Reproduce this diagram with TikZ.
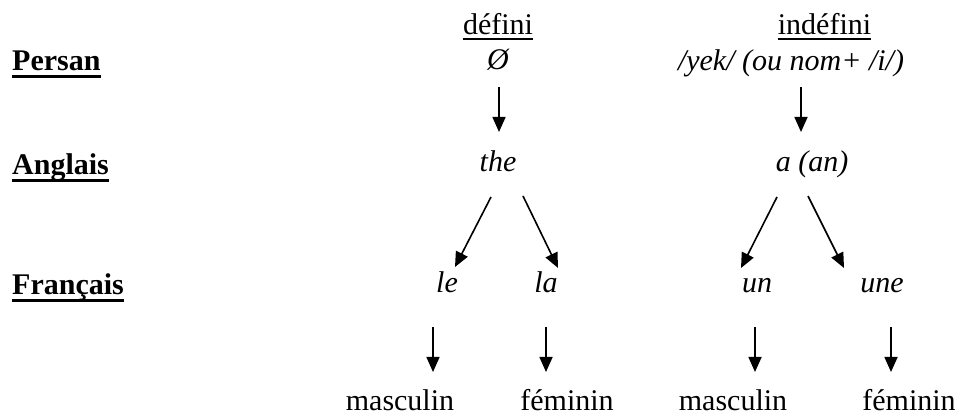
\documentclass[tikz,border=0pt]{standalone}
\usepackage{fontspec}
\setmainfont{Liberation Serif}
\usetikzlibrary{arrows.meta}
\begin{document}
\begin{tikzpicture}[x=1pt,y=1pt,
  txt/.style={inner sep=0pt,anchor=base,font=\fontsize{30}{36}\selectfont},
  ittxt/.style={txt,font=\fontsize{30}{36}\selectfont\itshape},
  lang/.style={inner sep=0pt,anchor=base west,font=\fontsize{30}{36}\selectfont\bfseries},
  arr/.style={line width=1.6pt,-{Triangle[length=15pt,width=13pt]}},
  ulthick/.style={line width=3pt},
  ulthin/.style={line width=1.8pt}]
\useasboundingbox (0,0) rectangle (958,417);
% language labels
\node[lang] (persan) at (12,346) {Persan};
\node[lang] (anglais) at (12,242) {Anglais};
\node[lang] (francais) at (12,122) {Français};
\draw[ulthick] ([yshift=-5.5]persan.base west) -- ([yshift=-5.5]persan.base east);
\draw[ulthick] ([yshift=-5.5]anglais.base west) -- ([yshift=-5.5]anglais.base east);
\draw[ulthick] ([yshift=-6]francais.base west) -- ([yshift=-6]francais.base east);
% headings
\node[txt] (defini) at (498,382) {défini};
\node[txt] (indefini) at (824.5,382) {indéfini};
\draw[ulthin] ([yshift=-4]defini.base west) -- ([yshift=-4]defini.base east);
\draw[ulthin] ([yshift=-4]indefini.base west) -- ([yshift=-4]indefini.base east);
% Persan row
\node[ittxt] (zero) at (498,347) {Ø};
\node[ittxt] (yek) at (791,346) {/yek/ (ou nom+ /i/)};
% Anglais row
\node[ittxt] (the) at (498,245) {the};
\node[ittxt] (aan) at (812,245) {a (an)};
% Francais row
\node[ittxt] (le) at (447,124) {le};
\node[ittxt] (la) at (546,124) {la};
\node[ittxt] (un) at (757,124) {un};
\node[ittxt] (une) at (882,124) {une};
% gender row
\node[txt] (m1) at (400,6) {masculin};
\node[txt] (f1) at (567,6) {féminin};
\node[txt] (m2) at (733,6) {masculin};
\node[txt] (f2) at (909,6) {féminin};
% arrows
\draw[arr] ([shift={(1,-17)}]zero.base) -- ([shift={(1,40)}]the.base);
\draw[arr] ([shift={(10,-16)}]yek.base) -- ([shift={(-11,40)}]aan.base);
\draw[arr] ([shift={(-7,-25)}]the.base) -- ([shift={(8,26)}]le.base);
\draw[arr] ([shift={(25,-24)}]the.base) -- ([shift={(12,25)}]la.base);
\draw[arr] ([shift={(-35,-25)}]aan.base) -- ([shift={(-16,25)}]un.base);
\draw[arr] ([shift={(-4,-24)}]aan.base) -- ([shift={(-38,25)}]une.base);
\draw[arr] ([shift={(-14,-34)}]le.base) -- ([shift={(33,39)}]m1.base);
\draw[arr] ([shift={(0,-34)}]la.base) -- ([shift={(-21,39)}]f1.base);
\draw[arr] ([shift={(-2,-34)}]un.base) -- ([shift={(22,39)}]m2.base);
\draw[arr] ([shift={(9,-34)}]une.base) -- ([shift={(-18,39)}]f2.base);
\end{tikzpicture}
\end{document}
